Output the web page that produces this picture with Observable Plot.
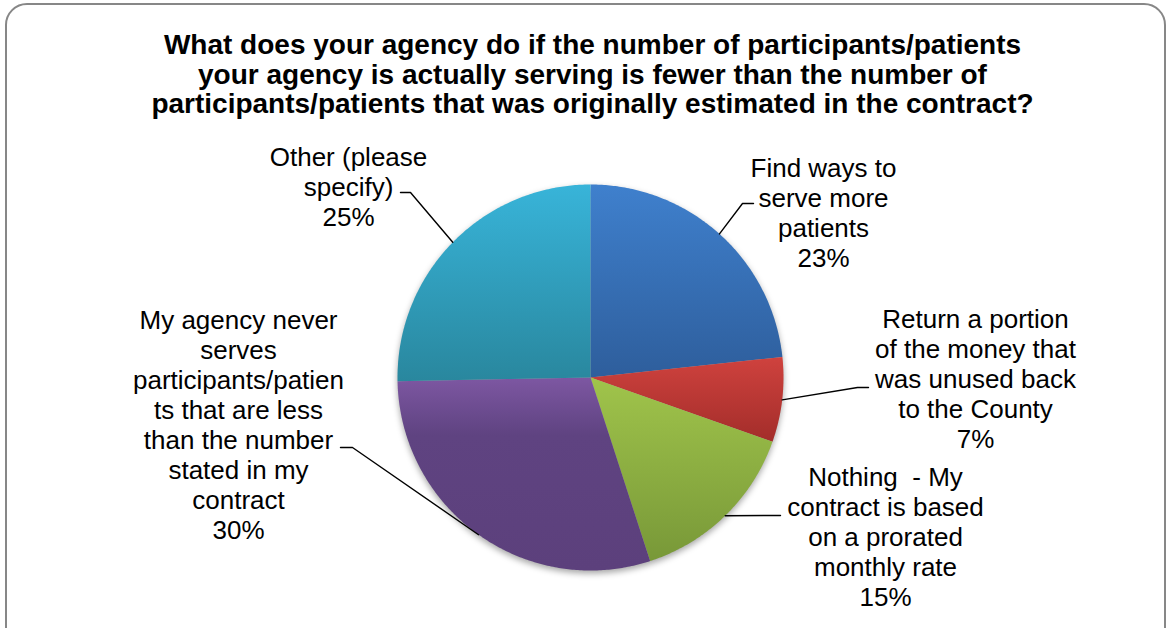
<!DOCTYPE html>
<html>
<head>
<meta charset="utf-8">
<script src="https://cdn.jsdelivr.net/npm/d3@7"></script>
<script src="https://cdn.jsdelivr.net/npm/@observablehq/plot@0.6"></script>
<style>
  html, body { margin: 0; padding: 0; background: #fff; }
  #wrap { position: relative; width: 1167px; height: 628px; overflow: hidden; font-family: Arial, "Liberation Sans", sans-serif; }
  #frame { position: absolute; left: 5px; top: 3px; width: 1161px; height: 660px; border: 2px solid #878787; border-radius: 22px; box-sizing: border-box; }
  #title { position: absolute; left: 0; top: 30px; width: 1185px; text-align: center; font-weight: bold; font-size: 28px; line-height: 29.5px; color: #000; }
  #chart { position: absolute; left: 0; top: 0; }
  #chart text { white-space: pre; }
</style>
</head>
<body>
<div id="wrap">
  <div id="frame"></div>
  <div id="chart"></div>
  <div id="title">What does your agency do if the number of participants/patients<br>your agency is actually serving is fewer than the number of<br>participants/patients that was originally estimated in the contract?</div>
</div>
<script>
// ---- data ----
const categories = [
  "Find ways to serve more patients",
  "Return a portion of the money that was unused back to the County",
  "Nothing  - My contract is based on a prorated monthly rate",
  "My agency never serves participants/patients that are less than the number stated in my contract",
  "Other (please specify)"
];
const values = [23.3, 7.1, 14.6, 29.7, 25.3];
const labelLines = [
  ["Find ways to", "serve more", "patients"],
  ["Return a portion", "of the money that", "was unused back", "to the County"],
  ["Nothing  - My", "contract is based", "on a prorated", "monthly rate"],
  ["My agency never", "serves", "participants/patien", "ts that are less", "than the number", "stated in my", "contract"],
  ["Other (please", "specify)"]
];

// ---- layout / style ----
const W = 1167, H = 628;
const center = [590, 377], radius = 193;
const gradients = [
  [[0, "#3F80CD"], [1, "#2E5E9C"]],
  [[0, "#CF423E"], [1, "#A32D2A"]],
  [[0, "#A0C44B"], [1, "#789838"]],
  [[0, "#7D57A2"], [0.3, "#5F4381"], [1, "#5C407C"]],
  [[0, "#38B4D9"], [1, "#29879E"]]
];
const labelPos = [[823, 211.5], [975, 377.5], [885, 535.5], [238, 423.5], [348, 186]];
const leaderElbow = [[742, 203], [857, 387], [770, 515], [352, 447], [410, 192]];
const leaderEnd = [[753, 203], [868, 387], [780, 515], [340, 447], [400, 192]];

// ---- geometry ----
const arcs = d3.pie().sort(null).value(d => d)(values);
const polar = (a, r) => [center[0] + r * Math.sin(a), center[1] - r * Math.cos(a)];
const slicePts = [];
arcs.forEach((a, i) => {
  const n = Math.max(8, Math.ceil((a.endAngle - a.startAngle) / 0.01));
  slicePts.push({k: i, x: center[0], y: center[1], g: `url(#sliceGrad${i})`});
  for (let j = 0; j <= n; j++) {
    const t = a.startAngle + (a.endAngle - a.startAngle) * j / n;
    const [x, y] = polar(t, radius);
    slicePts.push({k: i, x, y, g: `url(#sliceGrad${i})`});
  }
  slicePts.push({k: i, x: center[0], y: center[1], g: `url(#sliceGrad${i})`});
});
const leaders = [];
arcs.forEach((a, i) => {
  const mid = (a.startAngle + a.endAngle) / 2;
  const [x0, y0] = polar(mid, radius);
  leaders.push({k: i, x: x0, y: y0});
  leaders.push({k: i, x: leaderElbow[i][0], y: leaderElbow[i][1]});
  leaders.push({k: i, x: leaderEnd[i][0], y: leaderEnd[i][1]});
});
const labels = categories.map((c, i) => ({
  x: labelPos[i][0], y: labelPos[i][1],
  text: labelLines[i].join("\n") + "\n" + Math.round(values[i]) + "%"
}));

const chart = Plot.plot({
  width: W, height: H, margin: 0,
  x: {domain: [0, W], range: [0, W], axis: null},
  y: {domain: [0, H], range: [0, H], axis: null},
  color: {type: "identity"},
  marks: [
    Plot.line(slicePts, {x: "x", y: "y", z: "k", fill: "g", stroke: "none", curve: "linear"}),
    Plot.line(leaders, {x: "x", y: "y", z: "k", stroke: "#000", strokeWidth: 1.4, curve: "linear"}),
    Plot.text(labels, {x: "x", y: "y", text: "text", fontSize: 26, lineHeight: 30 / 26, fill: "#000",
      fontFamily: "Arial, 'Liberation Sans', sans-serif", textAnchor: "middle"})
  ]
});
// gradient definitions
const defs = d3.select(chart).insert("defs", ":first-child");
gradients.forEach((stops, i) => {
  const lg = defs.append("linearGradient").attr("id", `sliceGrad${i}`)
    .attr("x1", 0).attr("y1", 0).attr("x2", 0).attr("y2", 1);
  stops.forEach(([o, c]) => lg.append("stop").attr("offset", o).attr("stop-color", c));
});
d3.select(chart).select("g[aria-label='line']").style("filter", "drop-shadow(0px 3px 3px rgba(0,0,0,0.35))");
d3.select(chart).style("background", "transparent");
document.getElementById("chart").appendChild(chart);
</script>
</body>
</html>
